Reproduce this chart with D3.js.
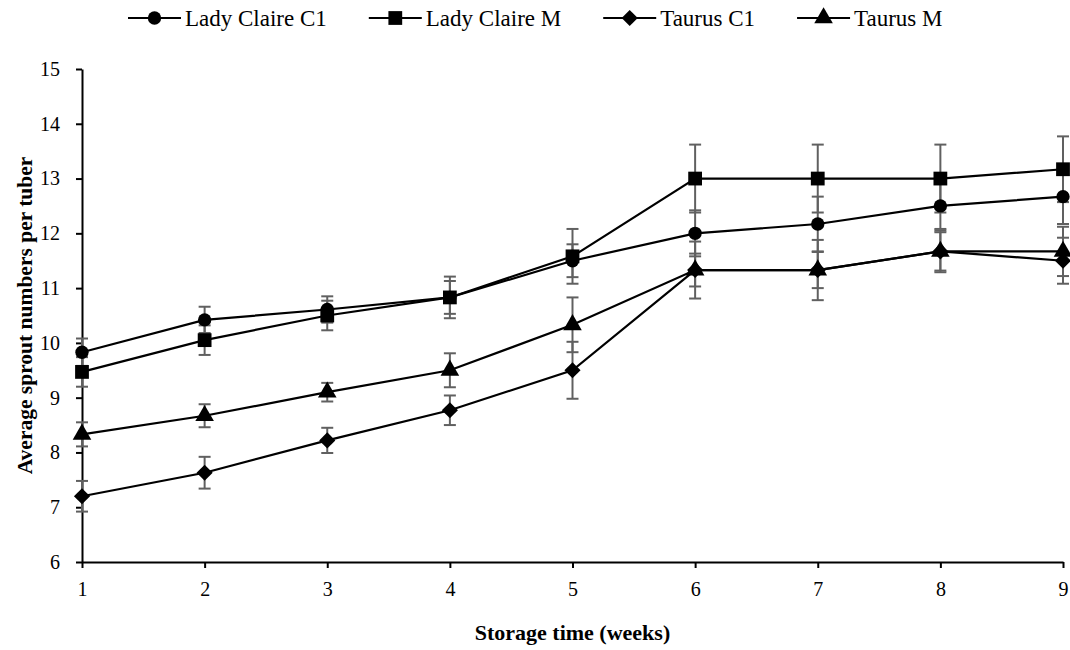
<!DOCTYPE html>
<html>
<head>
<meta charset="utf-8">
<script src="https://cdn.jsdelivr.net/npm/d3@7"></script>
<style>
  body { margin: 0; background: #fff; }
  svg text { font-family: "Liberation Serif", "Times New Roman", serif; }
</style>
</head>
<body>
<div id="chart"></div>
<script>
// storage weeks
var weeks = [1, 2, 3, 4, 5, 6, 7, 8, 9];

// mean sprout numbers per tuber
var ladyClaireC1 = [9.83, 10.42, 10.61, 10.83, 11.5, 12.0, 12.17, 12.5, 12.67];
var ladyClaireM  = [9.47, 10.05, 10.5, 10.83, 11.58, 13.0, 13.0, 13.0, 13.17];
var taurusC1     = [7.2, 7.63, 8.22, 8.77, 9.5, 11.33, 11.33, 11.67, 11.5];
var taurusM      = [8.33, 8.67, 9.1, 9.5, 10.33, 11.33, 11.33, 11.67, 11.67];

// error bar half-lengths
var ladyClaireC1Err = [0.25, 0.24, 0.24, 0.38, 0.3, 0.42, 0.5, 0.42, 0.5];
var ladyClaireMErr  = [0.27, 0.27, 0.27, 0.3, 0.5, 0.62, 0.62, 0.62, 0.6];
var taurusC1Err     = [0.28, 0.29, 0.23, 0.27, 0.52, 0.52, 0.55, 0.35, 0.42];
var taurusMErr      = [0.22, 0.21, 0.17, 0.31, 0.5, 0.3, 0.33, 0.38, 0.45];

var yTicks = [6, 7, 8, 9, 10, 11, 12, 13, 14, 15];

// diamond = square turned 45 degrees
var symbolDiamondSq = {
  draw: function (ctx, size) {
    var r = Math.sqrt(size / 2);
    ctx.moveTo(0, -r); ctx.lineTo(r, 0); ctx.lineTo(0, r); ctx.lineTo(-r, 0); ctx.closePath();
  }
};

var series = [
  { name: 'Lady Claire C1', values: ladyClaireC1, err: ladyClaireC1Err, symbol: d3.symbolCircle,   size: 140 },
  { name: 'Lady Claire M',  values: ladyClaireM,  err: ladyClaireMErr,  symbol: d3.symbolSquare,   size: 190 },
  { name: 'Taurus C1',      values: taurusC1,     err: taurusC1Err,     symbol: symbolDiamondSq,   size: 130 },
  { name: 'Taurus M',       values: taurusM,      err: taurusMErr,      symbol: d3.symbolTriangle, size: 150 }
];

var width = 1070, height = 650;
var margin = {top: 69, right: 7, bottom: 88, left: 82};

var svg = d3.select('#chart').append('svg')
    .attr('width', width)
    .attr('height', height);

var x = d3.scaleLinear()
    .domain([1, 9])
    .range([margin.left, width - margin.right]);

var y = d3.scaleLinear()
    .domain([6, 15])
    .range([height - margin.bottom, margin.top]);

// axes
var xAxis = svg.append('g')
    .attr('transform', 'translate(0,' + y(6) + ')')
    .call(d3.axisBottom(x).tickValues(weeks).tickFormat(d3.format('d')).tickSizeInner(6).tickSizeOuter(0).tickPadding(14));

var yAxis = svg.append('g')
    .attr('transform', 'translate(' + x(1) + ',0)')
    .call(d3.axisLeft(y).tickValues(yTicks).tickFormat(d3.format('d')).tickSizeInner(6).tickSizeOuter(0).tickPadding(16));

[xAxis, yAxis].forEach(function (a) {
  a.attr('font-family', '"Liberation Serif", serif').attr('font-size', 20);
  a.select('.domain').attr('stroke', '#000').attr('stroke-width', 2);
  a.selectAll('.tick line').attr('stroke', '#000').attr('stroke-width', 2);
  a.selectAll('.tick text')
    .attr('fill', '#000')
    .style('font-size', '20px')
    .style('font-family', '"Liberation Serif", serif');
});

// axis titles
svg.append('text')
    .attr('x', (x(1) + x(9)) / 2)
    .attr('y', 640)
    .attr('text-anchor', 'middle')
    .style('font-size', '22px')
    .style('font-weight', 'bold')
    .text('Storage time (weeks)');

svg.append('text')
    .attr('transform', 'translate(32,' + (y(6) + y(15)) / 2 + ') rotate(-90)')
    .attr('text-anchor', 'middle')
    .style('font-size', '21.5px')
    .style('font-weight', 'bold')
    .text('Average sprout numbers per tuber');

// error bars
var errG = svg.append('g');
series.forEach(function (s) {
  weeks.forEach(function (w, i) {
    var lo = y(s.values[i] - s.err[i]), hi = y(s.values[i] + s.err[i]), cx = x(w);
    var g = errG.append('g').attr('stroke', '#606060').attr('stroke-width', 2);
    g.append('line').attr('x1', cx).attr('x2', cx).attr('y1', lo).attr('y2', hi);
    g.append('line').attr('x1', cx - 6).attr('x2', cx + 6).attr('y1', lo).attr('y2', lo);
    g.append('line').attr('x1', cx - 6).attr('x2', cx + 6).attr('y1', hi).attr('y2', hi);
  });
});

// lines
var line = d3.line()
    .x(function (d, i) { return x(weeks[i]); })
    .y(function (d) { return y(d); });

series.forEach(function (s) {
  svg.append('path')
      .datum(s.values)
      .attr('fill', 'none')
      .attr('stroke', '#000')
      .attr('stroke-width', 2.2)
      .attr('d', line);
});

// markers
series.forEach(function (s) {
  svg.append('g').selectAll('path')
      .data(s.values)
    .enter().append('path')
      .attr('transform', function (d, i) { return 'translate(' + x(weeks[i]) + ',' + y(d) + ')'; })
      .attr('d', d3.symbol().type(s.symbol).size(s.size))
      .attr('fill', '#000');
});

// legend
var legend = svg.append('g');
var lx = 128, ly = 18;
series.forEach(function (s) {
  var item = legend.append('g').attr('transform', 'translate(' + lx + ',' + ly + ')');
  item.append('line')
      .attr('x1', 0).attr('x2', 53).attr('y1', 0).attr('y2', 0)
      .attr('stroke', '#000').attr('stroke-width', 2.2);
  item.append('path')
      .attr('transform', 'translate(26.5,0)')
      .attr('d', d3.symbol().type(s.symbol).size(s.size))
      .attr('fill', '#000');
  var t = item.append('text')
      .attr('x', 57)
      .attr('y', 8)
      .style('font-size', '23px')
      .text(s.name);
  lx += 57 + t.node().getComputedTextLength() + 42;
});
</script>
</body>
</html>
